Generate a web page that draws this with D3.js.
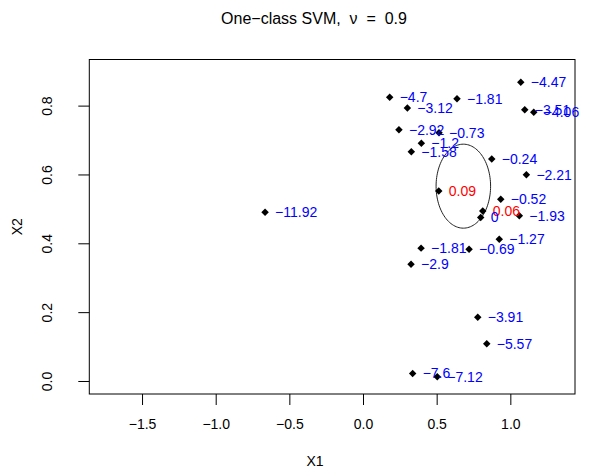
<!DOCTYPE html>
<html>
<head>
<meta charset="utf-8">
<script src="https://cdn.jsdelivr.net/npm/d3@7"></script>
<style>
  body { margin: 0; background: #fff; }
  svg text { font-family: "Liberation Sans", Arial, sans-serif; }
</style>
</head>
<body>
<div id="chart"></div>
<script>
// decision values at each training point (labels)
const scores = ["-4.7", "-3.12", "-1.81", "-4.47", "-3.51", "-4.06", "-2.92", "-0.73", "-1.2",
    "-1.58", "-0.24", "-2.21", "0.09", "-0.52", "0.06", "0", "-1.93", "-1.27", "-1.81",
    "-0.69", "-2.9", "-11.92", "-3.91", "-5.57", "-7.6", "-7.12"];
const x1 = [0.181, 0.301, 0.638, 1.071, 1.098, 1.159, 0.244, 0.516, 0.396,
    0.328, 0.874, 1.109, 0.514, 0.935, 0.813, 0.799, 1.061, 0.925, 0.394,
    0.720, 0.326, -0.665, 0.779, 0.840, 0.337, 0.504];
const x2 = [0.824, 0.793, 0.820, 0.868, 0.788, 0.781, 0.730, 0.721, 0.691,
    0.666, 0.645, 0.599, 0.552, 0.528, 0.494, 0.475, 0.480, 0.412, 0.386,
    0.383, 0.339, 0.490, 0.185, 0.108, 0.022, 0.012];
const xTicks = [-1.5, -1.0, -0.5, 0.0, 0.5, 1.0];
const yTicks = [0.0, 0.2, 0.4, 0.6, 0.8];
// decision boundary (ellipse): centre and half-axes
const ellCenter = [0.681, 0.566];
const ellRadii = [0.185, 0.122];

const W = 590, H = 475;
const margin = { top: 59.5, right: 15, bottom: 81, left: 89.3 };

const svg = d3.select("#chart").append("svg")
    .attr("width", W).attr("height", H);

const x = d3.scaleLinear().domain([-1.858, 1.439]).range([margin.left, W - margin.right]);
const y = d3.scaleLinear().domain([-0.0378, 0.934]).range([H - margin.bottom, margin.top]);

const fmt = d => d.toFixed(1).replace("-", "\u2212");

// box
svg.append("rect")
    .attr("x", margin.left).attr("y", margin.top)
    .attr("width", W - margin.left - margin.right)
    .attr("height", H - margin.top - margin.bottom)
    .attr("fill", "none").attr("stroke", "#000").attr("stroke-width", 1);

const xAxis = svg.append("g")
    .attr("transform", `translate(0,${H - margin.bottom})`)
    .call(d3.axisBottom(x).tickValues(xTicks).tickFormat(fmt).tickSize(11).tickPadding(14));
const yAxis = svg.append("g")
    .attr("transform", `translate(${margin.left},0)`)
    .call(d3.axisLeft(y).tickValues(yTicks).tickFormat(fmt).tickSize(11).tickPadding(7));

[xAxis, yAxis].forEach(g => {
    g.select(".domain").remove();
    g.selectAll("text").attr("font-size", 14).attr("fill", "#000")
        .style("font-family", "Liberation Sans, Arial, sans-serif");
});
yAxis.selectAll(".tick text")
    .attr("text-anchor", "middle")
    .attr("transform", "rotate(-90)")
    .attr("x", 0).attr("y", -37).attr("dy", "0");

// ellipse boundary
const angles = d3.range(0, 361, 3).map(a => a * Math.PI / 180);
svg.append("path")
    .datum(angles)
    .attr("d", d3.line()
        .x(a => x(ellCenter[0] + ellRadii[0] * Math.cos(a)))
        .y(a => y(ellCenter[1] + ellRadii[1] * Math.sin(a))))
    .attr("fill", "none").attr("stroke", "#222").attr("stroke-width", 1);

const data = scores.map((s, i) => ({ s: s, v: +s, x: x1[i], y: x2[i] }));

svg.selectAll("path.pt")
    .data(data)
    .enter()
    .append("path")
    .attr("class", "pt")
    .attr("d", d3.symbol().type(d3.symbolSquare).size(28))
    .attr("transform", d => `translate(${x(d.x)},${y(d.y)}) rotate(45)`)
    .attr("fill", "#000");

svg.selectAll("text.lab")
    .data(data)
    .enter()
    .append("text")
    .attr("class", "lab")
    .attr("x", d => x(d.x) + 10)
    .attr("y", d => y(d.y))
    .attr("dy", "0.35em")
    .attr("font-size", 14)
    .attr("fill", d => d.v > 0 ? "#ff0000" : "#0000ff")
    .text(d => d.s.replace("-", "\u2212"));

// titles
svg.append("text")
    .attr("x", 314)
    .attr("y", 24)
    .attr("text-anchor", "middle")
    .attr("font-size", 16)
    .style("white-space", "pre")
    .text("One\u2212class SVM,  \u03bd  =  0.9");

svg.append("text")
    .attr("x", 315)
    .attr("y", 466)
    .attr("text-anchor", "middle")
    .attr("font-size", 14)
    .text("X1");

svg.append("text")
    .attr("transform", `translate(22,${(margin.top + H - margin.bottom) / 2}) rotate(-90)`)
    .attr("text-anchor", "middle")
    .attr("font-size", 14)
    .text("X2");
</script>
</body>
</html>
